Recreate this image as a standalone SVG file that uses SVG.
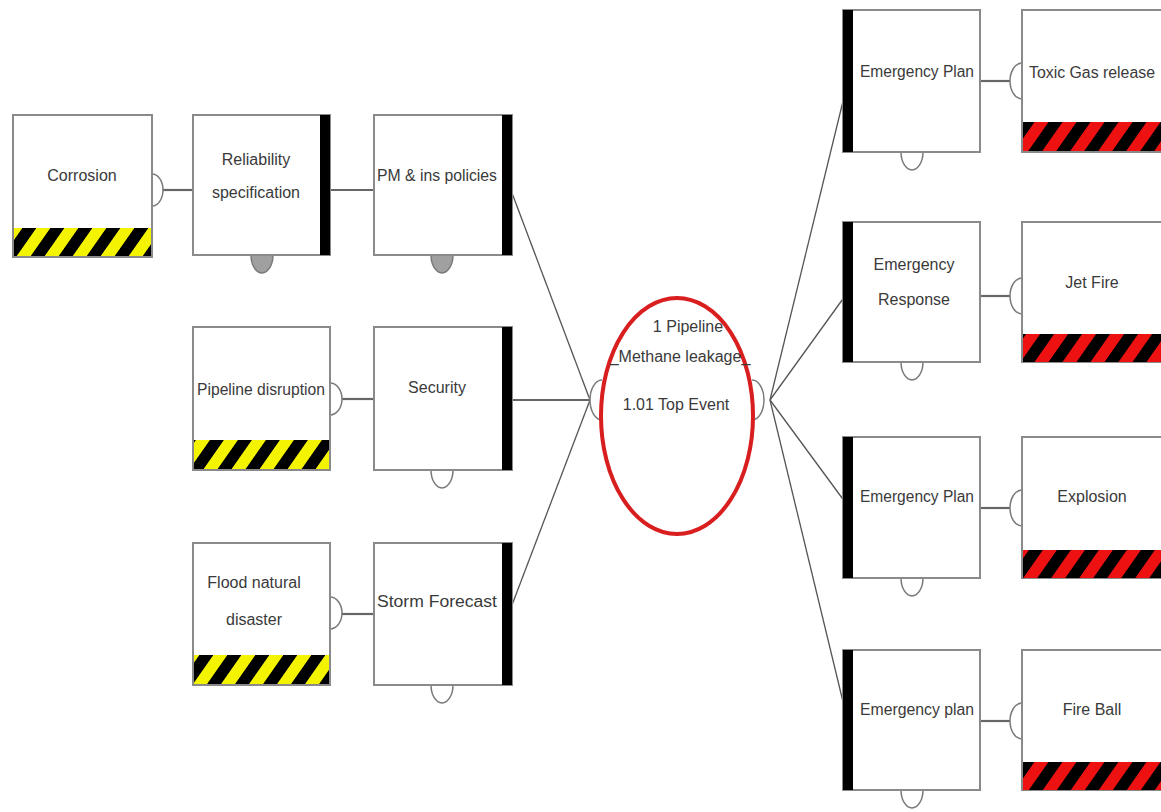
<svg xmlns="http://www.w3.org/2000/svg" width="1161" height="812" viewBox="0 0 1161 812">
<defs>
<pattern id="yb" patternUnits="userSpaceOnUse" width="28" height="40" patternTransform="skewX(-35)">
<rect x="0" y="0" width="28" height="40" fill="#000"/>
<rect x="0" y="0" width="14" height="40" fill="#f4f400"/>
</pattern>
<pattern id="rb" patternUnits="userSpaceOnUse" width="28" height="40" patternTransform="skewX(-35)">
<rect x="0" y="0" width="28" height="40" fill="#000"/>
<rect x="0" y="0" width="14" height="40" fill="#ee1111"/>
</pattern>
</defs>
<style>
.box{fill:#fff;stroke:#8a8a8a;stroke-width:2}
.bar{fill:#000}
.t{font-family:"Liberation Sans",Arial,sans-serif;font-size:16px;fill:#3a3a3a;text-anchor:middle}
.tc{font-family:"Liberation Sans",Arial,sans-serif;font-size:16px;fill:#3a3a3a;text-anchor:middle}
.cup{fill:#fff;stroke:#7a7a7a;stroke-width:1.5}
.cupg{fill:#a0a0a0;stroke:#7a7a7a;stroke-width:1.5}
.ln{stroke:#555;stroke-width:1.3;fill:none}
.hl{stroke:#666;stroke-width:2.2;fill:none}
</style>
<rect width="1161" height="812" fill="#fff"/>

<g id="connectors">
<line class="hl" x1="162" y1="190" x2="193" y2="190"/>
<line class="hl" x1="330" y1="190" x2="374" y2="190"/>
<line class="hl" x1="342" y1="399" x2="374" y2="399"/>
<line class="hl" x1="342" y1="614" x2="374" y2="614"/>
<line class="hl" x1="512" y1="400" x2="590" y2="400"/>
<line class="ln" x1="512" y1="193" x2="590" y2="400"/>
<line class="ln" x1="512" y1="605" x2="590" y2="400"/>
<line class="ln" x1="770" y1="400" x2="845" y2="93"/>
<line class="ln" x1="770" y1="400" x2="845" y2="296"/>
<line class="ln" x1="770" y1="400" x2="845" y2="502"/>
<line class="ln" x1="770" y1="400" x2="845" y2="710"/>
<line class="hl" x1="980" y1="81" x2="1010" y2="81"/>
<line class="hl" x1="980" y1="296" x2="1010" y2="296"/>
<line class="hl" x1="980" y1="508" x2="1010" y2="508"/>
<line class="hl" x1="980" y1="721" x2="1010" y2="721"/>
</g>

<g id="corrosion">
<path class="cup" d="M152,174 A11,16 0 0 1 152,206"/>
<rect class="box" x="13" y="115" width="139" height="142"/>
<rect x="14" y="228" width="137" height="28" fill="url(#yb)"/>
<text class="t" x="82" y="181">Corrosion</text>
</g>

<g id="reliability">
<path class="cupg" d="M251,255 A11,18 0 0 0 273,255 Z"/>
<rect class="box" x="193" y="115" width="137" height="140"/>
<rect class="bar" x="320" y="115" width="10" height="140"/>
<text class="t" x="256" y="165">Reliability</text>
<text class="t" x="256" y="198">specification</text>
</g>

<g id="pm">
<path class="cupg" d="M431,255 A11,18 0 0 0 453,255 Z"/>
<rect class="box" x="374" y="115" width="138" height="140"/>
<rect class="bar" x="502" y="115" width="10" height="140"/>
<text class="t" x="437" y="181" textLength="120" lengthAdjust="spacingAndGlyphs">PM &amp; ins policies</text>
</g>

<g id="pipeline-disruption">
<path class="cup" d="M330,383 A12,16 0 0 1 330,415"/>
<rect class="box" x="193" y="327" width="137" height="143"/>
<rect x="194" y="440" width="135" height="29" fill="url(#yb)"/>
<text class="t" x="261" y="395" textLength="128" lengthAdjust="spacingAndGlyphs">Pipeline disruption</text>
</g>

<g id="security">
<path class="cup" d="M431,470 A11,18 0 0 0 453,470"/>
<rect class="box" x="374" y="327" width="138" height="143"/>
<rect class="bar" x="502" y="327" width="10" height="143"/>
<text class="t" x="437" y="393">Security</text>
</g>

<g id="flood">
<path class="cup" d="M330,597 A12,16 0 0 1 330,629"/>
<rect class="box" x="193" y="543" width="137" height="142"/>
<rect x="194" y="655" width="135" height="29" fill="url(#yb)"/>
<text class="t" x="254" y="588">Flood natural</text>
<text class="t" x="254" y="625">disaster</text>
</g>

<g id="storm">
<path class="cup" d="M431,685 A11,18 0 0 0 453,685"/>
<rect class="box" x="374" y="543" width="138" height="142"/>
<rect class="bar" x="502" y="543" width="10" height="142"/>
<text class="t" x="437" y="607" textLength="120" lengthAdjust="spacingAndGlyphs">Storm Forecast</text>
</g>

<g id="top-event">
<path class="cup" d="M602,380 A12,20 0 0 0 602,420"/>
<path class="cup" d="M752,380 A12,20 0 0 1 752,420"/>
<ellipse cx="677" cy="416" rx="76" ry="118" fill="#fff" stroke="#d81e1e" stroke-width="4"/>
<text class="tc" x="688" y="332">1  Pipeline</text>
<text class="tc" x="680" y="362">_Methane leakage_</text>
<text class="tc" x="676" y="410">1.01  Top Event</text>
</g>

<g id="emergency-plan-1">
<path class="cup" d="M901,152 A11,18 0 0 0 923,152"/>
<rect class="box" x="843" y="10" width="137" height="142"/>
<rect class="bar" x="843" y="10" width="10" height="142"/>
<text class="t" x="917" y="77" textLength="114" lengthAdjust="spacingAndGlyphs">Emergency Plan</text>
</g>

<g id="toxic-gas">
<path class="cup" d="M1022,63 A12,18 0 0 0 1022,99"/>
<rect class="box" x="1022" y="10" width="145" height="142"/>
<rect x="1023" y="122" width="140" height="29" fill="url(#rb)"/>
<text class="t" x="1092" y="78" textLength="126" lengthAdjust="spacingAndGlyphs">Toxic Gas release</text>
</g>

<g id="emergency-response">
<path class="cup" d="M901,362 A11,18 0 0 0 923,362"/>
<rect class="box" x="843" y="222" width="137" height="140"/>
<rect class="bar" x="843" y="222" width="10" height="140"/>
<text class="t" x="914" y="270">Emergency</text>
<text class="t" x="914" y="305">Response</text>
</g>

<g id="jet-fire">
<path class="cup" d="M1022,278 A12,18 0 0 0 1022,314"/>
<rect class="box" x="1022" y="222" width="145" height="140"/>
<rect x="1023" y="334" width="140" height="28" fill="url(#rb)"/>
<text class="t" x="1092" y="288">Jet Fire</text>
</g>

<g id="emergency-plan-3">
<path class="cup" d="M901,578 A11,18 0 0 0 923,578"/>
<rect class="box" x="843" y="437" width="137" height="141"/>
<rect class="bar" x="843" y="437" width="10" height="141"/>
<text class="t" x="917" y="502" textLength="114" lengthAdjust="spacingAndGlyphs">Emergency Plan</text>
</g>

<g id="explosion">
<path class="cup" d="M1022,490 A12,18 0 0 0 1022,526"/>
<rect class="box" x="1022" y="437" width="145" height="141"/>
<rect x="1023" y="550" width="140" height="28" fill="url(#rb)"/>
<text class="t" x="1092" y="502">Explosion</text>
</g>

<g id="emergency-plan-4">
<path class="cup" d="M901,790 A11,18 0 0 0 923,790"/>
<rect class="box" x="843" y="650" width="137" height="140"/>
<rect class="bar" x="843" y="650" width="10" height="140"/>
<text class="t" x="917" y="715" textLength="114" lengthAdjust="spacingAndGlyphs">Emergency plan</text>
</g>

<g id="fire-ball">
<path class="cup" d="M1022,703 A12,18 0 0 0 1022,739"/>
<rect class="box" x="1022" y="650" width="145" height="140"/>
<rect x="1023" y="762" width="140" height="28" fill="url(#rb)"/>
<text class="t" x="1092" y="715">Fire Ball</text>
</g>
</svg>
